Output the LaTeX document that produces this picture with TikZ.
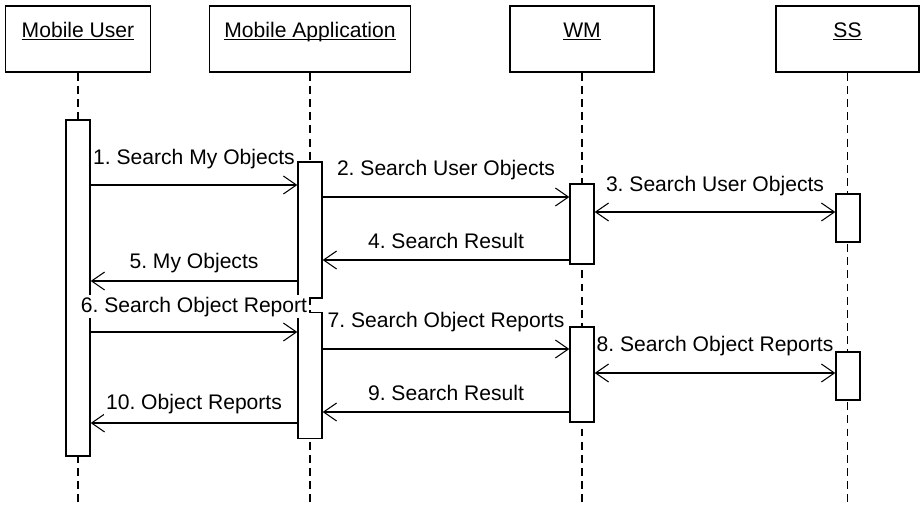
\documentclass[tikz,border=0pt]{standalone}
\usepackage{fontspec}
\setmainfont{Liberation Sans}
\usetikzlibrary{arrows.meta}
\frenchspacing

\begin{document}
\begin{tikzpicture}[
    font=\fontsize{12}{14}\selectfont,
    head/.style={draw, line width=0.8pt, minimum height=1.32cm, inner sep=0pt},
    act/.style={draw, line width=0.8pt, fill=white, minimum width=0.48cm, inner sep=0pt},
    lifeline/.style={line width=0.6pt, dash pattern=on 4.5pt off 3pt},
    msg/.style={line width=0.6pt, -{Straight Barb[length=2.6mm, width=3.6mm]}},
    msgboth/.style={line width=0.6pt, {Straight Barb[length=2.6mm, width=3.6mm]}-{Straight Barb[length=2.6mm, width=3.6mm]}},
    lbl/.style={anchor=base, fill=white, inner sep=1pt}
  ]
        \useasboundingbox (0,0) rectangle (18.42,-10.16);
        % Draw heads
        \node[head, minimum width=2.90cm] (user) at (1.56,-0.78) {\underline{\smash{Mobile User}}};
        \node[head, minimum width=4.02cm] (app) at (6.20,-0.78) {\underline{\smash{Mobile Application}}};
        \node[head, minimum width=2.88cm] (wm) at (11.64,-0.78) {\underline{\smash{WM}}};
        \node[head, minimum width=2.86cm] (ss) at (16.95,-0.78) {\underline{\smash{SS}}};
        % Draw lifelines
        \coordinate (bottom) at (0,-10.14);
        \foreach \p in {user, app, wm, ss}
            \draw[lifeline] (\p.south) -- (\p.south |- bottom);
        % Draw activations
        \node[act, minimum height=6.72cm] (ua) at (1.56,-5.76) {};
        \node[act, minimum height=2.72cm] (aa1) at (6.20,-4.60) {};
        \node[act, minimum height=2.52cm] (aa2) at (6.20,-7.51) {};
        \node[act, minimum height=1.60cm] (wa1) at (11.64,-4.48) {};
        \node[act, minimum height=1.90cm] (wa2) at (11.64,-7.49) {};
        \node[act, minimum height=0.96cm] (sa1) at (16.96,-4.36) {};
        \node[act, minimum height=0.96cm] (sa2) at (16.96,-7.52) {};
        % Message heights
        \foreach \n/\y in {1/-3.70, 2/-3.94, 3/-4.24, 4/-5.20, 5/-5.62, 6/-6.64, 7/-6.98, 8/-7.46, 9/-8.24, 10/-8.46}
            \coordinate (m\n) at (0,\y);
        % Draw messages
        \draw[msg] (ua.east |- m1) -- node[lbl, yshift=0.41cm] {1. Search My Objects} (aa1.west |- m1);
        \draw[msg] (aa1.east |- m2) -- node[lbl, yshift=0.44cm] {2. Search User Objects} (wa1.west |- m2);
        \draw[msgboth] (wa1.east |- m3) -- node[lbl, yshift=0.42cm] {3. Search User Objects} (sa1.west |- m3);
        \draw[msg] (wa1.west |- m4) -- node[lbl, yshift=0.24cm] {4. Search Result} (aa1.east |- m4);
        \draw[msg] (aa1.west |- m5) -- node[lbl, yshift=0.26cm] {5. My Objects} (ua.east |- m5);
        \draw[msg] (ua.east |- m6) -- node[lbl, yshift=0.40cm] {6. Search Object Report} (aa2.west |- m6);
        \draw[msg] (aa2.east |- m7) -- node[lbl, yshift=0.44cm] {7. Search Object Reports} (wa2.west |- m7);
        \draw[msgboth] (wa2.east |- m8) -- node[lbl, yshift=0.44cm] {8. Search Object Reports} (sa2.west |- m8);
        \draw[msg] (wa2.west |- m9) -- node[lbl, yshift=0.24cm] {9. Search Result} (aa2.east |- m9);
        \draw[msg] (aa2.west |- m10) -- node[lbl, yshift=0.28cm] {10. Object Reports} (ua.east |- m10);
    \end{tikzpicture}
\end{document}
